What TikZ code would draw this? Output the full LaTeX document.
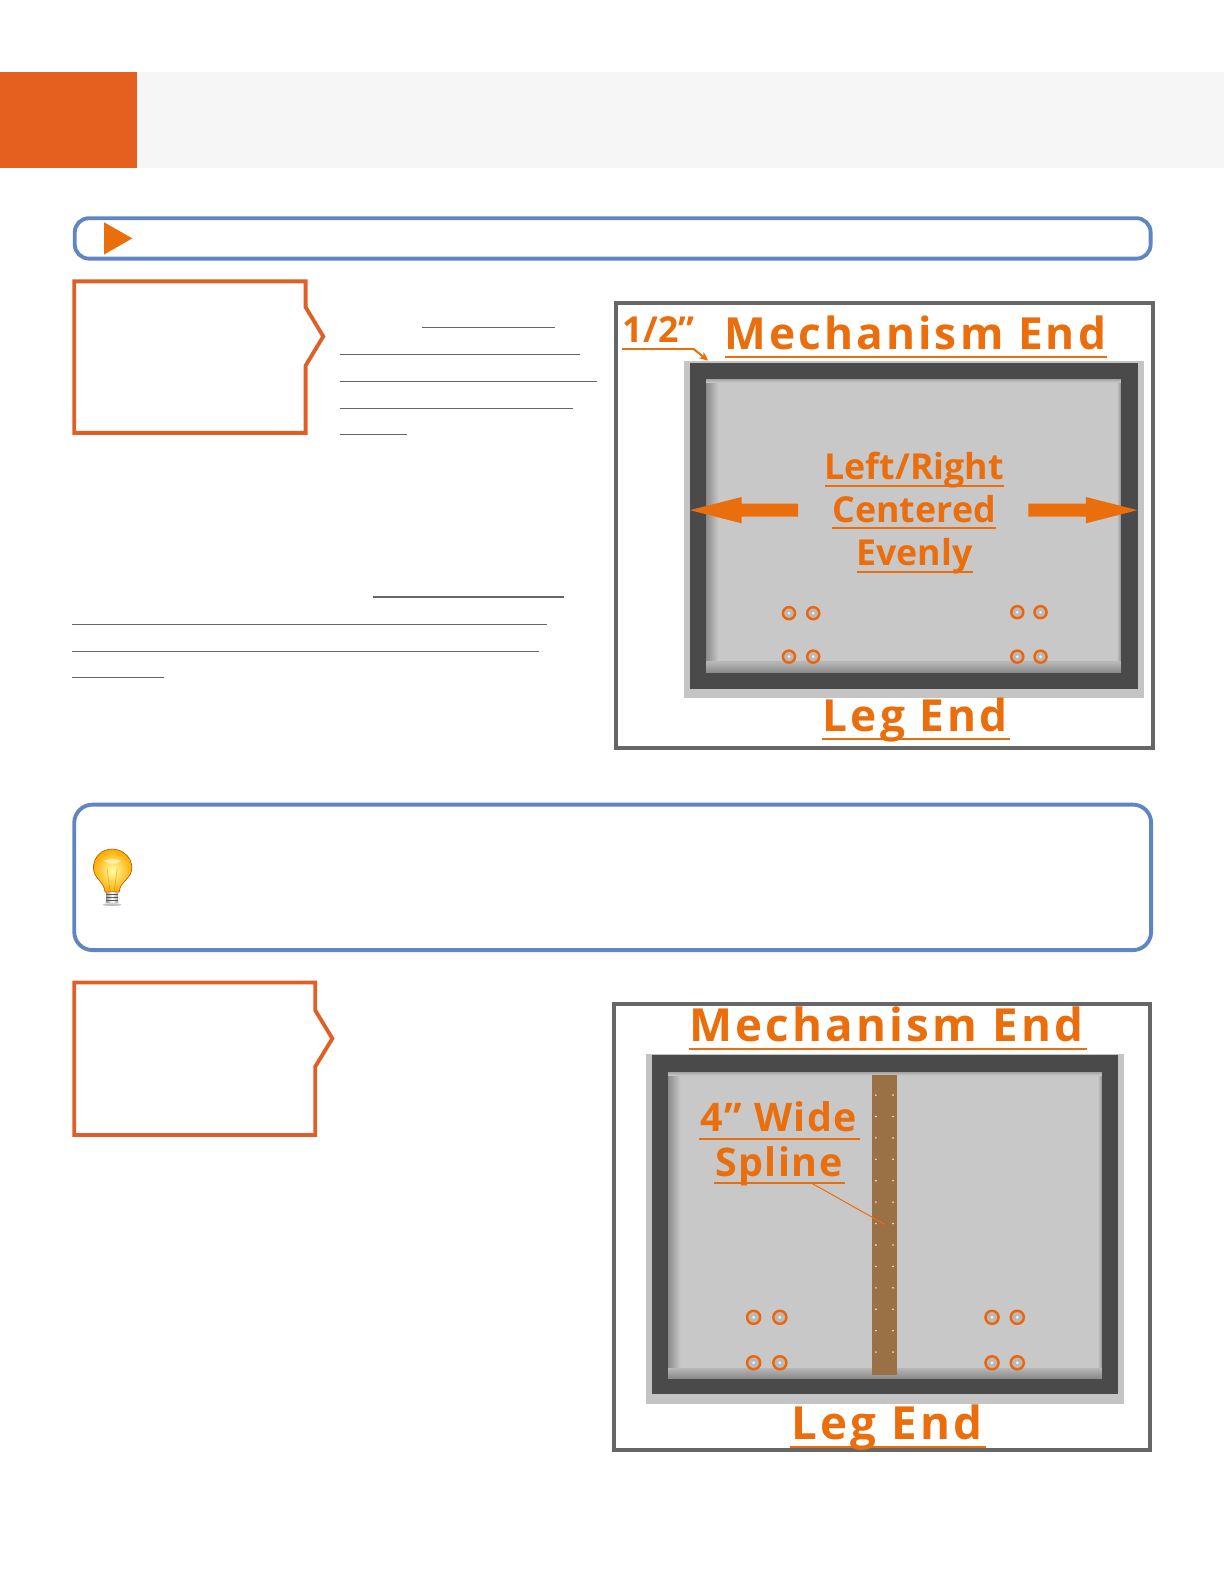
\documentclass[tikz,border=0pt]{standalone}
\usepackage{fontspec}
\setmainfont{Open Sans}
\newfontfamily\ospaced[LetterSpace=7]{Open Sans}
\newfontfamily\ospacedb[LetterSpace=4]{Open Sans}
\usetikzlibrary{arrows.meta}
\definecolor{hdrorange}{HTML}{E5601E}
\definecolor{hdrgrey}{HTML}{F6F6F6}
\definecolor{barblue}{HTML}{5F86C3}
\definecolor{boxorange}{HTML}{DF5F26}
\definecolor{txtorange}{HTML}{EB6E0C}
\definecolor{framegrey}{HTML}{666666}
\definecolor{darkframe}{HTML}{4A4A4A}
\definecolor{panelgrey}{HTML}{C8C8C8}
\definecolor{panelshade}{HTML}{8C8C8C}
\definecolor{halo}{HTML}{C4C4C4}
\definecolor{splinebrown}{HTML}{9A7045}
\tikzset{
  x=1pt,y=-1pt,
  bluebox/.style={draw=barblue,line width=3.8pt,fill=white},
  notchbox/.style={draw=boxorange,line width=3.8pt,fill=white,miter limit=10},
  frameb/.style={draw=framegrey,line width=4pt,fill=white},
  blankline/.style={draw=framegrey,line width=1.1pt},
  oline/.style={draw=txtorange,line width=2pt},
  bigwide/.style={inner sep=0,anchor=base,text=txtorange,font=\fontsize{43.8}{44}\selectfont\ospaced\bfseries},
  bigwider/.style={inner sep=0,anchor=base,text=txtorange,font=\fontsize{45.2}{46}\selectfont\ospaced\bfseries},
  midwide/.style={inner sep=0,anchor=base,text=txtorange,font=\fontsize{39}{39}\selectfont\ospacedb\bfseries},
  label/.style={inner sep=0,anchor=base,text=txtorange,font=\fontsize{35.4}{36}\selectfont\bfseries},
  holering/.style={draw=txtorange!92!red,line width=2.4pt,fill=panelgrey!80!gray},
  holedot/.style={fill=white!80!panelgrey},
  solidarrow/.style={fill=txtorange,draw=none}
}
% #1 left, #2 top, #3 right, #4 bottom of the panel; #5 top of the bottom band
\newcommand{\panelshadow}[5]{%
  \fill[panelgrey] (#1,#2) rectangle (#3,#4);
  \foreach \i in {0,...,12}{
    \pgfmathtruncatemacro{\pct}{100-\i*8}
    \fill[panelshade!\pct!panelgrey] ({#1+\i},#2) rectangle ({#1+\i+1.2},#4);
  }
  \foreach \i in {0,...,3}{
    \pgfmathtruncatemacro{\pct}{70-\i*22}
    \fill[panelshade!\pct!panelgrey] ({#3-\i-1.2},#2) rectangle ({#3-\i},#4);
  }
  \foreach \i in {0,...,3}{
    \pgfmathtruncatemacro{\pct}{60-\i*18}
    \fill[panelshade!\pct!panelgrey] (#1,{#2+\i}) rectangle (#3,{#2+\i+1.2});
  }
  \foreach \i in {0,...,10}{
    \pgfmathtruncatemacro{\pct}{100-\i*7}
    \fill[panelshade!\pct!panelgrey] (#1,{#4-\i-1.2}) rectangle (#3,{#4-\i});
  }
}
\begin{document}
\begin{tikzpicture}
\useasboundingbox (0,0) rectangle (1212,1568);
\fill[white] (0,0) rectangle (1212,1568);
% header
\fill[hdrgrey] (136,71) rectangle (1212,166);
\fill[hdrorange] (0,71) rectangle (136,166);
% bar
\draw[bluebox,rounded corners=14pt] (74,216) rectangle (1139,256);
\fill[txtorange] (103,220) -- (131,236) -- (103,252) -- cycle;
% step boxes
\draw[notchbox] (73.5,278.5) -- (302.5,278.5) -- (302.5,304) -- (320,333) -- (302.5,362) -- (302.5,428.5) -- (73.5,428.5) -- cycle;
\draw[notchbox] (73.5,972.5) -- (312,972.5) -- (312,1000) -- (329,1028) -- (312,1056) -- (312,1123.5) -- (73.5,1123.5) -- cycle;
% blank text underlines
\foreach \xa/\xb/\yy in {418/549/324,337/574/351,337/591/377.5,337/567/404,337/403/430,369/558/591,71/541/618,71/534/644.5,71/162/671}
  \draw[blankline] (\xa,\yy) -- (\xb,\yy);
% tip box
\draw[bluebox,rounded corners=18pt] (73.5,796.5) rectangle (1139.5,940.5);
% bulb
\shade[inner color=yellow!35!white,outer color=orange!65!yellow,draw=orange!70!black,line width=.6pt]
  (104,883) .. controls (103,872) and (92.5,870) .. (92.5,859) .. controls (92.5,848) and (101,840.5) .. (111,840.5)
  .. controls (121,840.5) and (130.5,848) .. (130.5,859) .. controls (130.5,870) and (119,872) .. (118,883) -- cycle;
\fill[white,opacity=.55] (103,852) .. controls (106,850) and (116,850) .. (120,852) .. controls (116,856) and (106,856) .. (103,852) -- cycle;
\draw[orange!70!black,line width=.4pt,opacity=.5] (106,860) -- (109,883) (116,860) -- (113,883);
\shade[left color=gray!80,right color=gray!80,middle color=white] (105,883) rectangle (117,893);
\foreach \yy in {885,888,891} \draw[gray!70!black,line width=.7pt] (105,\yy) -- (117,\yy);
\fill[gray!70,opacity=.7] (111,895.5) ellipse (9 and 1.4);
% frame 1
\draw[frameb] (610,300) rectangle (1141,740.5);
\fill[halo] (677,357) rectangle (1132,691);
\fill[darkframe] (683,359) rectangle (1126,682);
\panelshadow{699}{375}{1110}{666}{655}
\node[bigwide] (mech1) at (906,346) {Mechanism End};
\draw[oline] (718,353) -- (1096,353);
\node[label] (half) at (652,339.5) {1/2”};
\coordinate (halftip) at (701,357);
\draw[oline] (616,345) -- (686,345);
\draw[oline,-{Stealth[length=9pt,width=8pt]}] (686,345) -- (halftip);
\node[label] (lr) at (905,474.5) {Left/Right};
\draw[oline] (817,481) -- (994,481);
\node[label] (cent) at (905,517.5) {Centered};
\draw[oline] (824,523) -- (986,523);
\node[label] (even) at (905,559.5) {Evenly};
\draw[oline] (848,566) -- (963,566);
\fill[solidarrow] (683,505) -- (734,492) -- (734,498.5) -- (790,498.5) -- (790,511.5) -- (734,511.5) -- (734,518) -- cycle;
\fill[solidarrow] (1126,505) -- (1075,492) -- (1075,498.5) -- (1018,498.5) -- (1018,511.5) -- (1075,511.5) -- (1075,518) -- cycle;
\foreach \xx/\yy in {781/607,805/607,781/650,805/650,1007/606,1030/606,1007/650,1030/650}{
  \draw[holering] (\xx,\yy) circle (6);
  \fill[holedot] (\xx,\yy) circle (1.4);
}
\node[bigwide] (leg1) at (906,724) {Leg End};
\draw[oline] (814,732) -- (1000,732);
% frame 2
\draw[frameb] (608,994) rectangle (1138.5,1435.5);
\fill[halo] (639,1043) rectangle (1113,1390);
\fill[darkframe] (645,1044) rectangle (1107,1380);
\panelshadow{661}{1061}{1091}{1365}{1353}
\fill[splinebrown] (863,1064.5) rectangle (888,1361.5);
\foreach \k in {0,...,12}{
  \fill[white!85!splinebrown] (867,1084+21.2*\k) circle (.9);
  \fill[white!85!splinebrown] (884,1084+21.2*\k) circle (.9);
}
\node[bigwider] (mech2) at (877.5,1031) {Mechanism End};
\draw[oline] (682,1038) -- (1076,1038);
\node[midwide] (wide) at (771,1120) {4” Wide};
\draw[oline] (692,1127) -- (851,1127);
\node[midwide] (spl) at (771,1165) {Spline};
\draw[oline] (707,1171) -- (836,1171);
\coordinate (splinept) at (876,1212);
\draw[txtorange,line width=1pt] (803,1171) -- (splinept);
\foreach \xx/\yy in {746/1304,772/1304,746/1349,772/1349,982/1304,1007/1304,982/1349,1007/1349}{
  \draw[holering] (\xx,\yy) circle (6.5);
  \fill[holedot] (\xx,\yy) circle (1.5);
}
\node[bigwider] (leg2) at (878,1425) {Leg End};
\draw[oline] (782,1432) -- (976,1432);
\end{tikzpicture}
\end{document}
